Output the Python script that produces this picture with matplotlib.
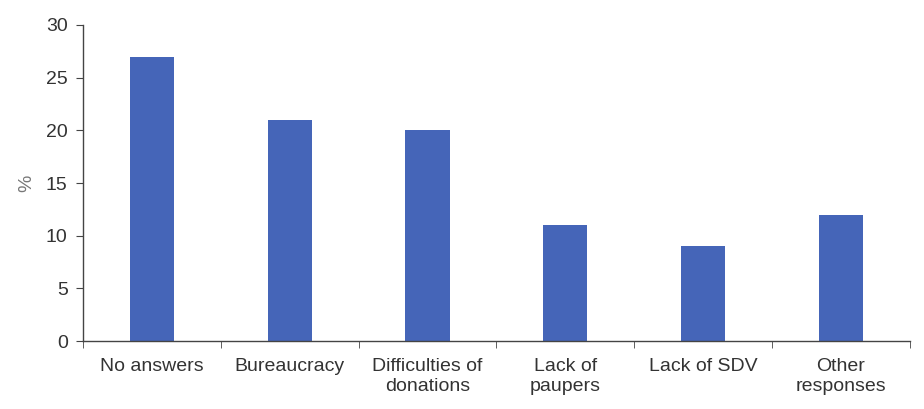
import matplotlib
matplotlib.use("Agg")
import matplotlib.pyplot as plt
import numpy as np

categories = ["No answers", "Bureaucracy", "Difficulties of\ndonations", "Lack of\npaupers", "Lack of SDV", "Other\nresponses"]
values = [27, 21, 20, 11, 9, 12]
yticks = [0, 5, 10, 15, 20, 25, 30]

plt.rcParams['font.family'] = ['Liberation Sans', 'DejaVu Sans']

fig = plt.figure(figsize=(9.24, 4.09), dpi=100)
ax = fig.add_axes([0.0898, 0.166, 0.895, 0.773])

x = np.arange(len(categories))
ax.bar(x, values, width=0.32, color="#4565B8")

fs = 14
ax.set_xlim(-0.5, len(categories) - 0.5)
ax.set_ylim(0, 30)
ax.set_yticks(yticks)
ax.set_xticks(x)
ax.set_xticklabels(categories, fontsize=fs, color="#333333", linespacing=1.25)
ax.tick_params(axis='x', which='major', length=0, pad=12)
ax.set_xticks(np.arange(-0.5, len(categories)), minor=True)
ax.tick_params(axis='x', which='minor', length=5, direction='out', color="#444444")
ax.tick_params(axis='y', length=5, direction='out', color="#444444", labelsize=fs, labelcolor="#333333", pad=6)
ax.set_ylabel("%", fontsize=fs, color="#777777", labelpad=8)

for s in ['top', 'right']:
    ax.spines[s].set_visible(False)
for s in ['left', 'bottom']:
    ax.spines[s].set_color("#444444")
    ax.spines[s].set_linewidth(1.0)

fig.savefig("out.png", dpi=100)
